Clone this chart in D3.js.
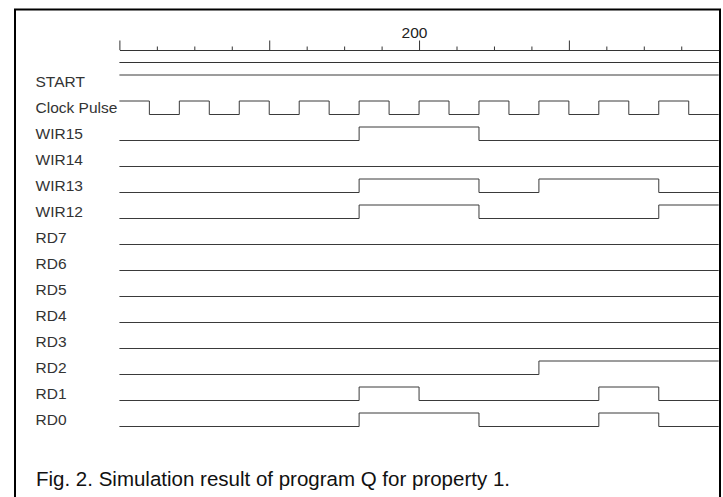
<!DOCTYPE html>
<html>
<head>
<meta charset="utf-8">
<script src="https://cdn.jsdelivr.net/npm/d3@7"></script>
<style>
  body { margin: 0; background: #fff; }
  svg { display: block; font-family: "Liberation Sans", Arial, sans-serif; }
</style>
</head>
<body>
<svg></svg>
<script>
// signal names, top to bottom
const signals = ["START", "Clock Pulse", "WIR15", "WIR14", "WIR13", "WIR12",
    "RD7", "RD6", "RD5", "RD4", "RD3", "RD2", "RD1", "RD0"];

// waveforms as [time, level] change points (time in ns)
const START = [[0, 1]];
const clockPulse = [[0, 1], [20, 0], [40, 1], [60, 0], [80, 1], [100, 0], [120, 1], [140, 0],
    [160, 1], [180, 0], [200, 1], [220, 0], [240, 1], [260, 0], [280, 1], [300, 0],
    [320, 1], [340, 0], [360, 1], [380, 0]];
const WIR15 = [[0, 0], [160, 1], [240, 0]];
const WIR14 = [[0, 0]];
const WIR13 = [[0, 0], [160, 1], [240, 0], [280, 1], [360, 0]];
const WIR12 = [[0, 0], [160, 1], [240, 0], [360, 1]];
const RD7 = [[0, 0]];
const RD6 = [[0, 0]];
const RD5 = [[0, 0]];
const RD4 = [[0, 0]];
const RD3 = [[0, 0]];
const RD2 = [[0, 0], [280, 1]];
const RD1 = [[0, 0], [160, 1], [200, 0], [320, 1], [360, 0]];
const RD0 = [[0, 0], [160, 1], [240, 0], [320, 1], [360, 0]];

const waves = [START, clockPulse, WIR15, WIR14, WIR13, WIR12,
    RD7, RD6, RD5, RD4, RD3, RD2, RD1, RD0];

// time axis
const timeRange = [0, 400];
const majorTicks = [0, 100, 200, 300];
const minorTicks = [25, 50, 75, 125, 150, 175, 225, 250, 275, 325, 350, 375];
const labeledTicks = [200];

const caption = "Fig. 2. Simulation result of program Q for property 1.";

const svg = d3.select("svg")
    .attr("width", 723)
    .attr("height", 497);

// frame
svg.append("rect")
    .attr("x", 15).attr("y", 9.5)
    .attr("width", 705).attr("height", 540)
    .attr("fill", "none")
    .attr("stroke", "#000")
    .attr("stroke-width", 2);

const x = d3.scaleLinear()
    .domain(timeRange)
    .range([119.4, 718.7]);

const y = d3.scalePoint()
    .domain(signals)
    .range([88, 88 + 26 * (signals.length - 1)]);

const high = 13.5;

// axis
const axisY = 50;
const majorAxis = d3.axisTop(x)
    .tickValues(majorTicks)
    .tickSize(9.5)
    .tickSizeOuter(0)
    .tickPadding(3)
    .tickFormat(function(d) { return labeledTicks.includes(d) ? d : ""; });

const gMajor = svg.append("g")
    .attr("transform", "translate(0," + axisY + ")")
    .call(majorAxis);
gMajor.select(".domain").attr("stroke", "#333");
gMajor.selectAll(".tick line").attr("stroke", "#333");
gMajor.selectAll(".tick text")
    .attr("font-size", "15.5px")
    .attr("font-family", "Liberation Sans, Arial, sans-serif")
    .attr("fill", "#222")
    .attr("dx", "-5");

const gMinor = svg.append("g")
    .attr("transform", "translate(0," + axisY + ")")
    .call(d3.axisTop(x).tickValues(minorTicks).tickSize(3.5).tickSizeOuter(0).tickFormat(""));
gMinor.select(".domain").remove();
gMinor.selectAll(".tick line").attr("stroke", "#333");

// separator under the axis
svg.append("line")
    .attr("x1", x(timeRange[0])).attr("x2", x(timeRange[1]))
    .attr("y1", 62.5).attr("y2", 62.5)
    .attr("stroke", "#333");

// signal labels
svg.selectAll("text.sig")
    .data(signals)
    .join("text")
    .attr("class", "sig")
    .attr("x", 35.5)
    .attr("y", function(d) { return y(d) - 1; })
    .attr("font-size", "15.5px")
    .attr("fill", "#333")
    .text(function(d) { return d; });

// waveforms
const line = d3.line()
    .x(function(p) { return x(p[0]); })
    .y(function(p) { return p[2] + 0.5 - (p[1] ? high : 0); })
    .curve(d3.curveStepAfter);

svg.selectAll("path.wave")
    .data(waves)
    .join("path")
    .attr("class", "wave")
    .attr("d", function(w, i) {
        const base = y(signals[i]);
        const pts = w.map(function(p) { return [p[0], p[1], base]; });
        pts.push([timeRange[1], w[w.length - 1][1], base]);
        return line(pts);
    })
    .attr("fill", "none")
    .attr("stroke", "#3a3a3a")
    .attr("stroke-width", 1);

// caption
svg.append("text")
    .attr("x", 36)
    .attr("y", 486)
    .attr("font-size", "20.5px")
    .attr("fill", "#111")
    .text(caption);
</script>
</body>
</html>
